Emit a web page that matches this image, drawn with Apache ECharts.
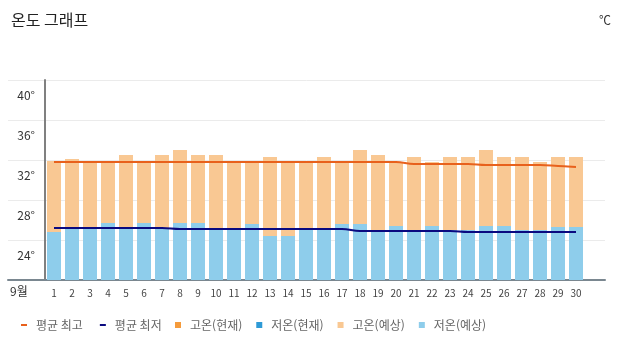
<!DOCTYPE html>
<html lang="ko">
<head>
    <meta charset="UTF-8">
    <title>온도 그래프</title>
    <style>
      * { padding: 0; margin: 0; }
      body { background: #fff; }
    </style>
</head>
<body>
    <div id="main" style="width: 625px;height:352px;"></div>
    <script src="https://cdn.jsdelivr.net/npm/echarts@6/dist/echarts.min.js"></script>
    <script>
    var FONT = "'Noto Sans CJK KR', 'Noto Sans', sans-serif";

    var days = ['1','2','3','4','5','6','7','8','9','10','11','12','13','14','15',
                '16','17','18','19','20','21','22','23','24','25','26','27','28','29','30'];
    // 고온(예상)
    var highs = [31.9, 32.1, 31.9, 31.9, 32.5, 31.9, 32.5, 33.0, 32.5, 32.5,
                 31.8, 31.8, 32.3, 31.8, 31.8, 32.3, 31.8, 33.0, 32.5, 31.8,
                 32.3, 31.8, 32.3, 32.3, 33.0, 32.3, 32.3, 31.8, 32.3, 32.3];
    // 저온(예상)
    var lows = [24.8, 25.2, 25.2, 25.7, 25.2, 25.7, 25.2, 25.7, 25.7, 25.2,
                25.0, 25.6, 24.4, 24.4, 25.0, 25.0, 25.6, 25.6, 25.0, 25.4,
                25.0, 25.4, 25.0, 25.0, 25.4, 25.4, 25.0, 25.0, 25.3, 25.3];
    // 평균 최고 / 평균 최저
    var avgHigh = [31.8, 31.8, 31.8, 31.8, 31.8, 31.8, 31.8, 31.8, 31.8, 31.8,
                   31.8, 31.8, 31.8, 31.8, 31.8, 31.8, 31.8, 31.8, 31.8, 31.8,
                   31.6, 31.6, 31.6, 31.6, 31.5, 31.5, 31.5, 31.5, 31.4, 31.3];
    var avgLow = [25.2, 25.2, 25.2, 25.2, 25.2, 25.2, 25.2, 25.1, 25.1, 25.1,
                  25.1, 25.1, 25.1, 25.1, 25.1, 25.1, 25.1, 24.9, 24.9, 24.9,
                  24.9, 24.9, 24.9, 24.8, 24.8, 24.8, 24.8, 24.8, 24.8, 24.8];
    // 현재 값 (9월에는 없음)
    var highsNow = [];
    var lowsNow = [];
    var yTicks = [20, 40, 4];

    var option = {
        animation: false,
        textStyle: { fontFamily: FONT },
        title: [
            { text: '온도 그래프', left: 6, top: 7,
              textStyle: { fontSize: 16, fontWeight: 'normal', color: '#222', fontFamily: FONT } },
            { text: '℃', right: 9, top: 9,
              textStyle: { fontSize: 12, fontWeight: 'normal', color: '#333', fontFamily: FONT } }
        ],
        graphic: [
            { type: 'text', left: 10, top: 285,
              style: { text: '9월', fontSize: 12, fill: '#333', fontFamily: FONT } }
        ],
        legend: [
            {
                data: ['평균 최고', '평균 최저'],
                left: 16, top: 314,
                itemWidth: 6, itemHeight: 2, itemGap: 17,
                icon: 'rect',
                textStyle: { fontSize: 12, color: '#666', padding: [0, 0, 0, 4], fontFamily: FONT }
            },
            {
                data: ['고온(현재)', '저온(현재)', '고온(예상)', '저온(예상)'],
                left: 170, top: 314,
                itemWidth: 6, itemHeight: 6, itemGap: 14,
                icon: 'rect',
                textStyle: { fontSize: 12, color: '#666', padding: [0, 0, 0, 4], fontFamily: FONT }
            }
        ],
        grid: [
            { left: 8, right: 20, top: 80, bottom: 72 },
            { left: 45, right: 40, top: 80, bottom: 72 }
        ],
        xAxis: [
            {
                gridIndex: 0, type: 'value', min: 0, max: 1,
                axisLine: { show: true, onZero: false, lineStyle: { color: '#7a8790', width: 2 } },
                axisTick: { show: false }, axisLabel: { show: false }, splitLine: { show: false }
            },
            {
                gridIndex: 1, type: 'category', data: days,
                axisLine: { show: false }, axisTick: { show: false },
                axisLabel: { fontSize: 10, color: '#444', margin: 8, fontFamily: FONT }
            }
        ],
        yAxis: [
            {
                gridIndex: 0, type: 'value', min: yTicks[0], max: yTicks[1], interval: yTicks[2],
                axisLine: { show: false }, axisTick: { show: false }, axisLabel: { show: false },
                splitLine: { lineStyle: { color: '#ebebeb' } }
            },
            {
                gridIndex: 1, type: 'value', min: yTicks[0], max: yTicks[1], interval: yTicks[2],
                axisLine: { show: true, lineStyle: { color: '#808080', width: 2 } },
                axisTick: { show: false }, splitLine: { show: false },
                axisLabel: {
                    fontSize: 12, color: '#333', margin: 10, fontFamily: FONT,
                    verticalAlign: 'top', lineHeight: 30,
                    formatter: function (v) { return v === yTicks[0] ? '' : v + '°'; }
                }
            }
        ],
        series: [
            {
                name: '평균 최고', type: 'line', xAxisIndex: 1, yAxisIndex: 1,
                data: avgHigh, smooth: 0.4, symbol: 'none', z: 5,
                itemStyle: { color: '#e8611c' },
                lineStyle: { color: '#e8611c', width: 2 }
            },
            {
                name: '평균 최저', type: 'line', xAxisIndex: 1, yAxisIndex: 1,
                data: avgLow, smooth: 0.4, symbol: 'none', z: 5,
                itemStyle: { color: '#0a0a80' },
                lineStyle: { color: '#0a0a80', width: 2 }
            },
            {
                name: '고온(현재)', type: 'bar', xAxisIndex: 1, yAxisIndex: 1,
                data: highsNow, barWidth: 14, barGap: '-100%',
                itemStyle: { color: '#f59b3c' }
            },
            {
                name: '저온(현재)', type: 'bar', xAxisIndex: 1, yAxisIndex: 1,
                data: lowsNow, barWidth: 14, barGap: '-100%',
                itemStyle: { color: '#2e9ad6' }
            },
            {
                name: '고온(예상)', type: 'bar', xAxisIndex: 1, yAxisIndex: 1,
                data: highs, barWidth: 14, barGap: '-100%',
                itemStyle: { color: '#f9c893' }
            },
            {
                name: '저온(예상)', type: 'bar', xAxisIndex: 1, yAxisIndex: 1,
                data: lows, barWidth: 14, barGap: '-100%',
                itemStyle: { color: '#8ecdeb' }
            }
        ]
    };

    var myChart = echarts.init(document.getElementById('main'));
    myChart.setOption(option);
    </script>
</body>
</html>
